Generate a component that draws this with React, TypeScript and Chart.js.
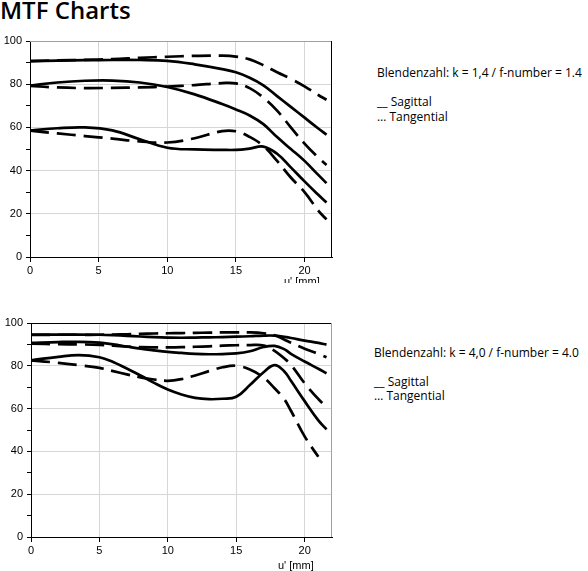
import React, { useEffect, useRef } from "react";
import { Chart, registerables } from "chart.js";

Chart.register(...registerables);

// k = 1.4
const xTop = [0, 2, 4, 6, 8, 10, 12, 14, 15, 16, 17, 18, 19, 20, 21, 21.6];
const sagTop1 = [90.7, 90.9, 91.1, 91.2, 91.2, 90.8, 89.2, 87, 85.5, 83, 79.5, 74.5, 69.5, 64.5, 59.5, 56.6];
const sagTop2 = [79.3, 80.8, 81.6, 81.7, 80.8, 78.7, 75.3, 70.8, 68.3, 65.5, 61.5, 55.5, 50, 44.5, 38, 34.2];
const sagTop3 = [58.5, 59.6, 60, 58.6, 54.5, 50.6, 49.8, 49.6, 49.6, 50.2, 51.1, 47.8, 41.5, 35, 28.8, 25.2];
const tanTop1 = [90.7, 91, 91.3, 91.6, 92.2, 92.7, 93.1, 93.2, 92.8, 91.5, 88.8, 85.5, 82.5, 79, 75, 72.8];
const tanTop2 = [79.2, 78.5, 78.2, 78.3, 78.5, 78.9, 79.6, 80.5, 80.4, 78.2, 73.8, 67.8, 60, 52.5, 46, 42.6];
const tanTop3 = [58.5, 57.2, 56, 54.8, 53.5, 53, 55, 58.3, 58.2, 55.6, 51.4, 44.5, 36.8, 30, 21.5, 17.4];

// k = 4.0
const xBottom = [0, 2, 3.5, 5, 6, 7, 8, 9, 10, 11, 12, 13, 14, 15, 16, 17, 17.8, 18.5, 19, 20, 21, 21.6];
const sagBottom1 = [94.6, 94.6, 94.6, 94.5, 94.3, 94, 93.7, 93.4, 93.2, 93.1, 93.2, 93.3, 93.4, 93.6, 93.8, 94.1, 94.1, 93.5, 93, 91.8, 90.7, 89.9];
const sagBottom2 = [90.7, 91.1, 91.2, 90.8, 90, 89, 88, 87.2, 86.5, 86, 85.6, 85.4, 85.5, 85.8, 86.8, 88.8, 89.3, 87.8, 85.6, 82, 78.6, 76.5];
const sagBottom3 = [82.6, 84.2, 85, 84, 81.8, 78.7, 75.5, 72, 68.9, 66.6, 65, 64.4, 64.6, 65.5, 71, 77, 80.3, 77.5, 73, 63.5, 54.5, 50.3];
const tanBottom1 = [94.4, 94.5, 94.5, 94.5, 94.6, 94.7, 94.9, 95.1, 95.2, 95.3, 95.4, 95.5, 95.6, 95.6, 95.6, 95.2, 94.3, 92.3, 90.8, 88, 85.6, 84];
const tanBottom2 = [90.3, 90.1, 90, 89.8, 89.4, 89, 88.7, 88.6, 88.6, 88.7, 88.9, 89.1, 89.4, 89.6, 89.7, 89.5, 87, 83.5, 80.5, 71.8, 64.5, 60.8];
const tanBottom3 = [82.5, 81.4, 80.3, 79, 77.5, 76, 74.6, 73.6, 73, 73.8, 75.5, 77.5, 79.3, 80, 78.3, 74.5, 69.5, 64.5, 59, 47, 37.5, null];

const framePlugin = {
  id: "frame",
  afterDraw(chart: any, _args: any, opts: any) {
    const { ctx, chartArea: a } = chart;
    ctx.save();
    ctx.lineWidth = 1;
    ctx.strokeStyle = opts.top;
    ctx.beginPath();
    ctx.moveTo(a.left, Math.round(a.top) + 0.5);
    ctx.lineTo(a.right, Math.round(a.top) + 0.5);
    ctx.stroke();
    ctx.strokeStyle = opts.right;
    ctx.beginPath();
    ctx.moveTo(Math.round(a.right) - 0.5, a.top);
    ctx.lineTo(Math.round(a.right) - 0.5, a.bottom);
    ctx.stroke();
    ctx.restore();
  },
};

interface MtfProps {
  xs: number[];
  sagittal: number[][];
  tangential: (number | null)[][];
  axisWidth: number;
  height: number;
  topColor: string;
  rightColor: string;
}

const toPoints = (xs: number[], ys: (number | null)[]) =>
  xs.map((x, i) => ({ x, y: ys[i] })).filter((p) => p.y !== null);

const MtfChart: React.FC<MtfProps> = ({ xs, sagittal, tangential, axisWidth, height, topColor, rightColor }) => {
  const chartRef = useRef<HTMLCanvasElement>(null);

  useEffect(() => {
    if (!chartRef.current) return;
    const line = { borderColor: "#000", borderWidth: 2.7, pointRadius: 0, tension: 0.4, fill: false };
    const chart = new Chart(chartRef.current, {
      type: "line",
      data: {
        datasets: [
          ...sagittal.map((ys, i) => ({ ...line, label: "Sagittal " + (i + 1), data: toPoints(xs, ys) })),
          ...tangential.map((ys, i) => ({ ...line, label: "Tangential " + (i + 1), borderDash: [19, 8], data: toPoints(xs, ys) })),
        ],
      },
      options: {
        animation: false,
        responsive: false,
        layout: { padding: { top: 14, right: 8, left: 0, bottom: 0 } },
        scales: {
          x: {
            type: "linear",
            min: 0,
            max: 22,
            afterBuildTicks: (scale: any) => {
              scale.ticks = scale.ticks.filter((t: any) => t.value % 5 === 0);
            },
            afterFit: (scale: any) => {
              scale.height = 30;
            },
            ticks: { stepSize: 5, color: "#000", padding: 2, maxRotation: 0, font: { family: "Liberation Sans", size: 11 } },
            grid: { color: "#d6d6d6", tickColor: "#000", tickLength: 5 },
            border: { color: "#000", width: 1 },
          },
          y: {
            min: 0,
            max: 100,
            afterFit: (scale: any) => {
              scale.width = axisWidth;
            },
            ticks: {
              stepSize: 10,
              color: "#000",
              padding: 4,
              font: { family: "Liberation Sans", size: 11 },
              callback: (v: any) => (v % 20 === 0 ? String(v) : ""),
            },
            grid: {
              color: (c: any) => (c.tick && c.tick.value % 20 === 0 ? "#d6d6d6" : "rgba(0,0,0,0)"),
              tickColor: "#000",
              tickLength: 4,
            },
            border: { color: "#000", width: 1 },
          },
        },
        plugins: {
          legend: { display: false },
          tooltip: { enabled: false },
          frame: { top: topColor, right: rightColor },
        } as any,
      },
      plugins: [framePlugin],
    });
    return () => {
      chart.destroy();
    };
  }, []);

  return <canvas ref={chartRef} width={340} height={height} style={{ width: 340, height }}></canvas>;
};

const legendText: React.CSSProperties = {
  position: "absolute",
  fontFamily: "'Open Sans', sans-serif",
  fontSize: 12,
  lineHeight: "14px",
  color: "#000",
  whiteSpace: "nowrap",
};

const axisLabel: React.CSSProperties = {
  position: "absolute",
  fontFamily: "'Liberation Sans', Arial, sans-serif",
  fontSize: 11,
  lineHeight: "13px",
  color: "#000",
  whiteSpace: "nowrap",
};

export default function App() {
  return (
    <div style={{ position: "absolute", left: 0, top: 0, width: 588, height: 571, background: "#fff", overflow: "hidden" }}>
      <div
        style={{
          position: "absolute",
          left: 0,
          top: -2,
          fontFamily: "'Open Sans', sans-serif",
          fontWeight: 600,
          fontSize: 24,
          lineHeight: "24px",
          color: "#000",
          whiteSpace: "nowrap",
        }}
      >
        MTF Charts
      </div>

      <div style={{ position: "absolute", left: 0, top: 27, width: 345, height: 256, overflow: "hidden" }}>
        <MtfChart
          xs={xTop}
          sagittal={[sagTop1, sagTop2, sagTop3]}
          tangential={[tanTop1, tanTop2, tanTop3]}
          axisWidth={30}
          height={260}
          topColor="#a0a0a0"
          rightColor="#000"
        />
        <div style={{ ...axisLabel, left: 284, top: 248.4 }}>u' [mm]</div>
      </div>
      <div style={{ ...legendText, left: 377, top: 65.5 }}>Blendenzahl: k = 1,4 / f-number = 1.4</div>
      <div style={{ ...legendText, left: 377, top: 95.2 }}>__ Sagittal</div>
      <div style={{ ...legendText, left: 377, top: 109.9 }}>… Tangential</div>

      <div style={{ position: "absolute", left: 0, top: 309, width: 345, height: 262 }}>
        <MtfChart
          xs={xBottom}
          sagittal={[sagBottom1, sagBottom2, sagBottom3]}
          tangential={[tanBottom1, tanBottom2, tanBottom3]}
          axisWidth={31}
          height={258}
          topColor="#000"
          rightColor="#a0a0a0"
        />
        <div style={{ ...axisLabel, left: 278, top: 250.2 }}>u' [mm]</div>
      </div>
      <div style={{ ...legendText, left: 374, top: 345.9 }}>Blendenzahl: k = 4,0 / f-number = 4.0</div>
      <div style={{ ...legendText, left: 374, top: 375.2 }}>__ Sagittal</div>
      <div style={{ ...legendText, left: 374, top: 388.9 }}>… Tangential</div>
    </div>
  );
}
